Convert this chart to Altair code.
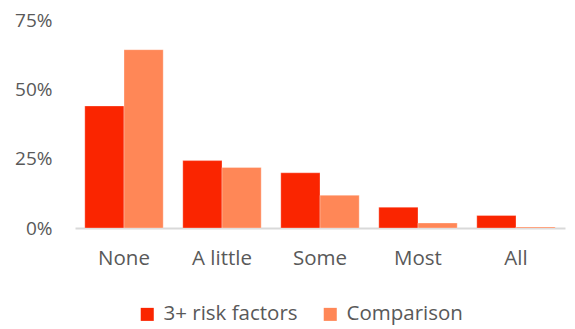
import altair as alt
import pandas as pd

categories = ["None", "A little", "Some", "Most", "All"]
series_names = ["3+ risk factors", "Comparison"]
risk_values = [0.44, 0.243, 0.199, 0.075, 0.045]
comparison_values = [0.643, 0.218, 0.118, 0.018, 0.004]
colors = ["#FA2500", "#FF8757"]

rows = []
for c, v in zip(categories, risk_values):
    rows.append({"category": c, "series": series_names[0], "value": v})
for c, v in zip(categories, comparison_values):
    rows.append({"category": c, "series": series_names[1], "value": v})
df = pd.DataFrame(rows)

font = "Open Sans"
grey = "#595959"

chart = alt.Chart(df).mark_bar(stroke="white", strokeWidth=0.6, strokeOpacity=0.5).encode(
    x=alt.X("category:N", sort=categories, title=None,
            scale=alt.Scale(paddingInner=0.2, paddingOuter=0.1),
            axis=alt.Axis(labelAngle=0, ticks=False, domainColor="#d9d9d9", domainWidth=2,
                          labelFontSize=20.5, labelColor=grey, labelFont=font, labelPadding=20)),
    xOffset=alt.XOffset("series:N", sort=series_names),
    y=alt.Y("value:Q", title=None,
            scale=alt.Scale(domain=[0, 0.75]),
            axis=alt.Axis(values=[0, 0.25, 0.5, 0.75], format=".0%", grid=False, domain=False,
                          ticks=False, labelFontSize=19, labelColor=grey, labelFont=font,
                          labelPadding=23)),
    color=alt.Color("series:N", sort=series_names,
                    scale=alt.Scale(domain=series_names, range=colors),
                    legend=alt.Legend(title=None, orient="none", direction="horizontal",
                                      legendX=62, legendY=284, symbolType="square",
                                      symbolSize=170, symbolStrokeWidth=0, labelFontSize=20.5,
                                      labelColor=grey, labelFont=font, columnPadding=22,
                                      labelOffset=6)),
).properties(
    width=490, height=208,
    autosize=alt.AutoSizeParams(type="none"),
    padding={"left": 67, "top": 12, "right": 2, "bottom": 100},
).configure_view(stroke=None)

chart.save("out.html", embed_options={"renderer": "svg", "actions": False})
